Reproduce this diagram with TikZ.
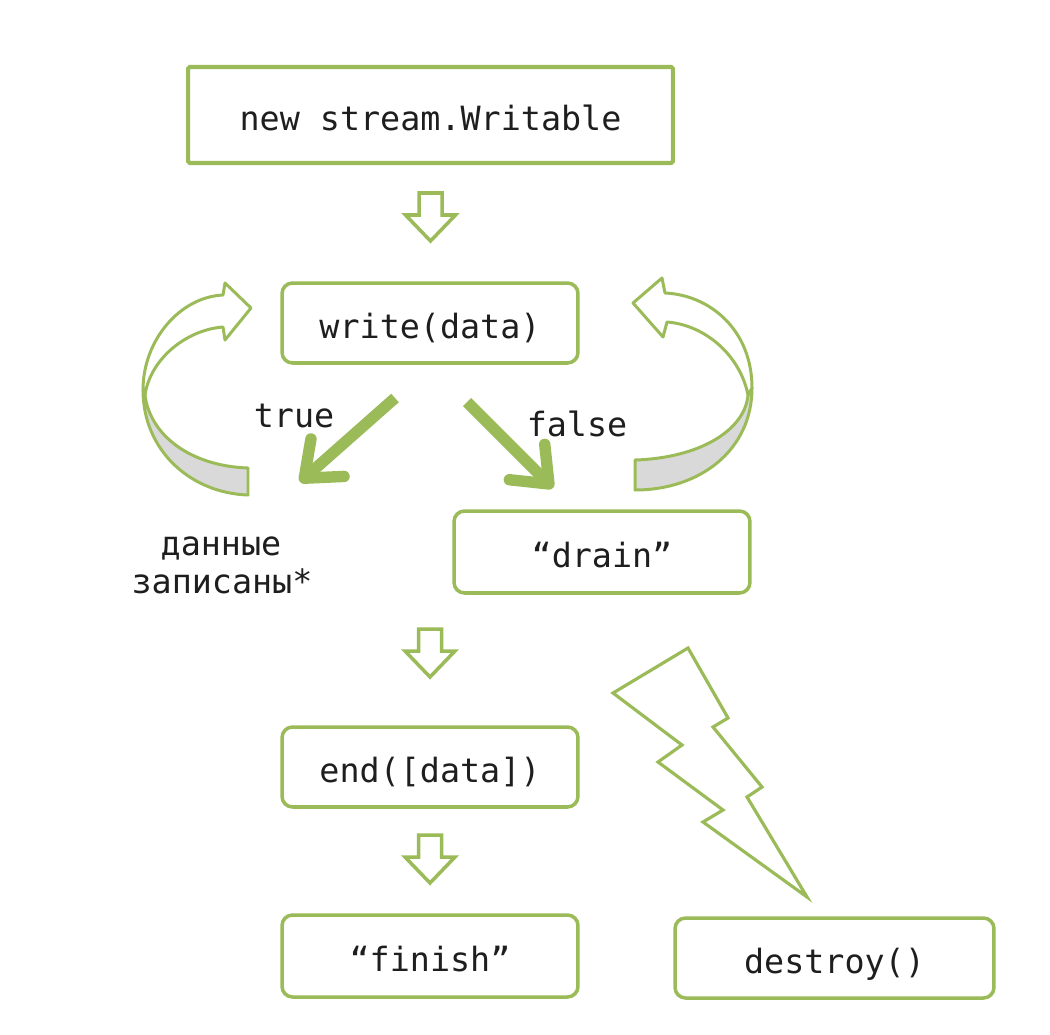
\documentclass[tikz,border=0pt]{standalone}
\usepackage{fontspec}
\newfontfamily\codefont{DejaVu Sans Mono}
\usetikzlibrary{arrows.meta}
\definecolor{grn}{HTML}{9BBB59}
\definecolor{txt}{HTML}{1E1E1E}
\definecolor{under}{HTML}{D9D9D9}
\begin{document}
\begin{tikzpicture}[x=0.02cm,y=-0.02cm,
  box/.style={draw=grn, line width=2pt, rounded corners=6pt, fill=white,
    font=\codefont\fontsize{19}{22}\selectfont, text=txt, inner sep=0pt,
    text height=17.4pt, text depth=0pt, minimum width=5.92cm, minimum height=1.6cm},
  lbl/.style={font=\codefont\fontsize{19}{21.6}\selectfont, text=txt, inner sep=0pt},
  hollow/.style={draw=grn, line width=2pt, fill=white, line join=miter},
  diag/.style={draw=grn, line width=6.5pt,
    -{Straight Barb[length=0.62cm, width=1.0cm, line width=6.5pt, round]}},
  band/.style={draw=grn, line width=1.7pt, line join=round},
  downarr/.pic={\draw[hollow] (-11.5,0) -- (11.5,0) -- (11.5,22) -- (25,22) -- (0,48) -- (-25,22) -- (-11.5,22) -- cycle;}
]
\useasboundingbox (0,0) rectangle (1050,1034);

% boxes
\node[box, rounded corners=1pt, line width=2.3pt, minimum width=9.7cm, minimum height=1.92cm] (new) at (430.5,115) {new stream.Writable};
\node[box] (write) at (430,323) {write(data)};
\node[box, minimum height=1.64cm] (drain) at (602,552) {“drain”};
\node[box] (end) at (430,767) {end([data])};
\node[box, minimum height=1.64cm] (finish) at (430,956) {“finish”};
\node[box, minimum width=6.38cm] (destroy) at (834.5,958) {destroy()};

% labels
\node[lbl, anchor=base] (true) at (294,427) {true};
\node[lbl, anchor=base] (false) at (577,436) {false};
\node[lbl, anchor=base] (written1) at (221,555) {данные};
\node[lbl, anchor=base] (written2) at (222,593) {записаны*};

% hollow down arrows
\pic at (430.5,193) {downarr};
\pic at (430,629) {downarr};
\pic at (430,835) {downarr};

% diagonal arrows
\coordinate (t1) at (395,398);
\coordinate (t2) at (300,482);
\coordinate (f1) at (467,402);
\coordinate (f2) at (553,488);
\draw[diag] (t1) -- (t2);
\draw[diag] (f1) -- (f2);

% left curved arrow
\draw[band, fill=under] (143,390) .. controls (143,450) and (190,493) .. (248,495) -- (248,468) .. controls (190,466) and (150,435) .. (145,395) -- cycle;
\draw[band, fill=white] (143,390) .. controls (143,340) and (180,297) .. (223,295) -- (225,283) -- (251,308) -- (225,340) -- (223,327) .. controls (185,330) and (150,360) .. (145,395) -- cycle;

% right curved arrow
\draw[band, fill=under] (752,388) .. controls (752,450) and (700,490) .. (635,490) -- (635,460) .. controls (700,458) and (745,430) .. (748,395) -- cycle;
\draw[band, fill=white] (752,388) .. controls (752,330) and (710,295) .. (665,293) -- (662,278) -- (633,303) -- (663,337) -- (667,322) .. controls (705,325) and (740,355) .. (748,395) -- cycle;

% lightning
\draw[grn, line width=1.8pt, line join=miter] (688,648) -- (613,693) -- (682,745) -- (658,762) -- (723,810) -- (703,822) -- (807,897) -- (747,797) -- (762,787) -- (713,727) -- (728,718) -- cycle;
\end{tikzpicture}
\end{document}
